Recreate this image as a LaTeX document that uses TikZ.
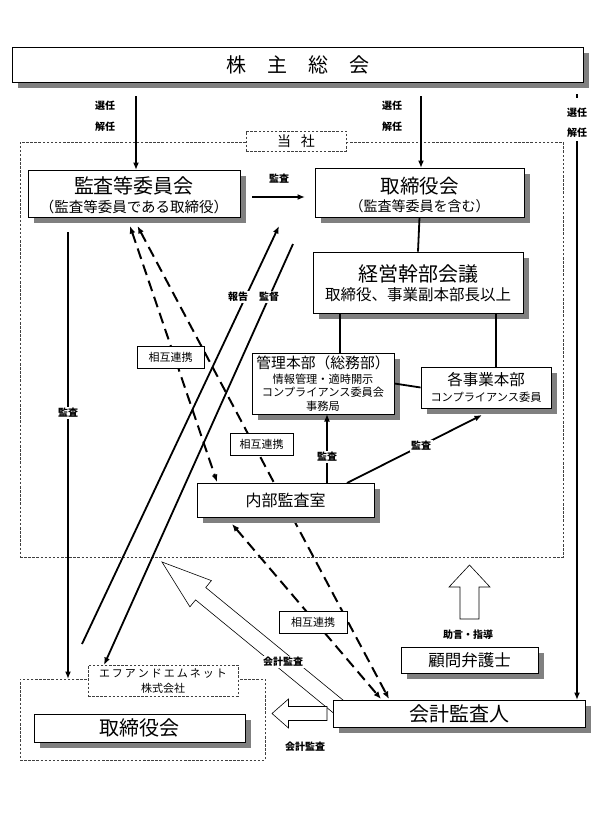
\documentclass[tikz,border=0pt]{standalone}
\usepackage{fontspec}
\setmainfont{Noto Sans CJK JP}
\usetikzlibrary{arrows.meta,shadows}
\newcommand{\jfs}[1]{\fontsize{#1}{#1}\selectfont}
\tikzset{
  shad/.style={general shadow={fill=black!50, shadow xshift=6pt, shadow yshift=-6pt}},
  bx/.style={draw=black, line width=0.8pt, fill=white, inner sep=0pt, shad},
  txt/.style={inner sep=0pt, align=center},
  cont/.style={draw=black!75, line width=0.6pt, dash pattern=on 2.5pt off 1.6pt, inner sep=0pt},
  contlbl/.style={cont, fill=white, align=center},
  sogo/.style={draw=black, line width=0.7pt, fill=white, inner sep=0pt, minimum height=22pt, font=\jfs{11}},
  lbl/.style={fill=white, inner sep=1.5pt, font=\jfs{10}\bfseries},
  arr/.style={line width=1.8pt, -{Latex[length=7.5pt,width=6pt]}},
  ln/.style={line width=1.8pt},
  dsh/.style={line width=2pt, dash pattern=on 11pt off 6pt, {Latex[length=7.5pt,width=6pt]}-{Latex[length=7.5pt,width=6pt]}},
  hollow/.style={draw=black, line width=0.6pt, fill=white, line join=miter},
}
\begin{document}
\begin{tikzpicture}[x=1pt,y=-1pt]
\useasboundingbox (0,0) rectangle (611,815);
\fill[white] (0,0) rectangle (611,815);

% containers
\node[cont, minimum width=543pt, minimum height=415pt] (tosha) at (291.5,349.5) {};
\node[cont, minimum width=245pt, minimum height=81pt] (fmnet) at (142.5,719.5) {};

% coordinates
\coordinate (s1a) at (136,96);   \coordinate (s1b) at (136,170);
\coordinate (s2a) at (421,96);   \coordinate (s2b) at (421,168);
\coordinate (s3a) at (577,94);   \coordinate (s3b) at (577,98);
\coordinate (s3c) at (577,141);  \coordinate (s3d) at (577,700);
\coordinate (kaL) at (68,232);   \coordinate (kaLb) at (68,679);
\coordinate (hoA) at (82,644);   \coordinate (hoB) at (279,226);
\coordinate (kaA) at (293,244);  \coordinate (kaB) at (104,665);
\coordinate (d1a) at (130,226);  \coordinate (d1b) at (217,482);
\coordinate (d2a) at (137.5,226);\coordinate (d2b) at (389,699);
\coordinate (d3a) at (232,524);  \coordinate (d3b) at (381,699);

% lines under boxes
\draw[dsh] (d2a) -- (d2b);
\draw[dsh] (d1a) -- (d1b);
\draw[dsh] (d3a) -- (d3b);
\draw[arr] (hoA) -- (hoB);
\draw[arr] (kaA) -- (kaB);
\draw[arr] (kaL) -- (kaLb);
\draw[arr] (s1a) -- (s1b);
\draw[arr] (s2a) -- (s2b);
\draw[ln] (s3a) -- (s3b);
\draw[arr] (s3c) -- (s3d);

% hollow arrows
\draw[hollow] (162,562) -- (211.4,580.6) -- (205.7,587.5) -- (345.1,701.8) -- (334.9,714.2) -- (195.6,599.9) -- (189.9,606.8) -- cycle;
\draw[hollow] (272,713.5) -- (288.5,699) -- (288.5,706.5) -- (327,706.5) -- (327,720.5) -- (288.5,720.5) -- (288.5,728) -- cycle;
\draw[hollow] (469.5,565) -- (490,587) -- (479,587) -- (479,619) -- (460,619) -- (460,587) -- (449,587) -- cycle;

% boxes
\node[bx, minimum width=571pt, minimum height=35pt] (kabu) at (297.5,64.5) {};
\node[txt, font=\jfs{20}] (kabuT) at (kabu) {株\hspace{21pt}主\hspace{21pt}総\hspace{21pt}会};

\node[bx, minimum width=212pt, minimum height=47pt] (kansa) at (134,193.5) {};
\node[txt, font=\jfs{20}] (kansaT1) at (134,186) {監査等委員会};
\node[txt, font=\jfs{14.5}] (kansaT2) at (134,206.5) {（監査等委員である取締役）};

\node[bx, minimum width=209pt, minimum height=49pt] (tori) at (419.5,192.5) {};
\node[txt, font=\jfs{19.5}] (toriT1) at (419.5,186.5) {取締役会};
\node[txt, font=\jfs{14}] (toriT2) at (419.5,206.5) {（監査等委員を含む）};

\node[bx, minimum width=210pt, minimum height=61pt] (keiei) at (418,282.5) {};
\node[txt, font=\jfs{20}] (keieiT1) at (418,273.5) {経営幹部会議};
\node[txt, font=\jfs{15.5}] (keieiT2) at (418,295) {取締役、事業副本部長以上};

\node[bx, minimum width=142pt, minimum height=61pt] (kanri) at (323,383.5) {};
\node[txt, font=\jfs{14.8}] (kanriT1) at (323,362.5) {管理本部（総務部）};
\node[txt, font=\jfs{11.2}] (kanriT2) at (323,379) {情報管理・適時開示};
\node[txt, font=\jfs{11.2}] (kanriT3) at (323,392.5) {コンプライアンス委員会};
\node[txt, font=\jfs{11.2}] (kanriT4) at (323,406) {事務局};

\node[bx, minimum width=130pt, minimum height=41pt] (kakuji) at (486,387.5) {};
\node[txt, font=\jfs{15.5}] (kakujiT1) at (486,380) {各事業本部};
\node[txt, font=\jfs{11.2}] (kakujiT2) at (486,397.5) {コンプライアンス委員};

\node[bx, minimum width=177pt, minimum height=34pt] (naibu) at (285.5,500) {};
\node[txt, font=\jfs{16}] (naibuT) at (naibu) {内部監査室};

\node[bx, minimum width=137pt, minimum height=26pt] (komon) at (469.5,660) {};
\node[txt, font=\jfs{16.5}] (komonT) at (komon) {顧問弁護士};

\node[bx, minimum width=252pt, minimum height=27pt] (kaikei) at (459,713.5) {};
\node[txt, font=\jfs{20}] (kaikeiT) at (kaikei) {会計監査人};

\node[bx, minimum width=211pt, minimum height=28pt] (tori2) at (139.5,728) {};
\node[txt, font=\jfs{20}] (tori2T) at (tori2) {取締役会};

% container labels
\node[contlbl, minimum width=100pt, minimum height=20pt, font=\jfs{14}] (toshaL) at (296,141) {当\hspace{10pt}社};
\node[contlbl, minimum width=150pt, minimum height=31pt] (fmL) at (163,680.5) {};
\node[txt, font=\jfs{11}] (fmL1) at (163,673.5) {エ\hspace{2pt}フ\hspace{2pt}ア\hspace{2pt}ン\hspace{2pt}ド\hspace{2pt}エ\hspace{2pt}ム\hspace{2pt}ネ\hspace{2pt}ッ\hspace{2pt}ト};
\node[txt, font=\jfs{11}] (fmL2) at (163,688) {株式会社};

% solid connectors between boxes
\coordinate (auA) at (252,197); \coordinate (auB) at (305,197);
\draw[arr] (auA) -- (auB);
\draw[ln] (tori.south) -- (keiei.north);
\coordinate (k1a) at (340,313); \coordinate (k1b) at (340,353);
\coordinate (k2a) at (496,313); \coordinate (k2b) at (496,367);
\draw[ln] (k1a) -- (k1b);
\draw[ln] (k2a) -- (k2b);
\draw[ln] (kanri.east) -- (kakuji.west);
\coordinate (n1a) at (327,483); \coordinate (n1b) at (327,414);
\coordinate (n2a) at (347,483); \coordinate (n2b) at (482,415);
\draw[arr] (n1a) -- (n1b);
\draw[arr] (n2a) -- (n2b);

% mutual cooperation labels
\node[sogo, minimum width=67pt] (sogo1) at (170.5,357.5) {相互連携};
\node[sogo, minimum width=63pt] (sogo2) at (261.5,444) {相互連携};
\node[sogo, minimum width=68pt] (sogo3) at (313,622) {相互連携};

% small labels
\node[lbl] (l1) at (105,106) {選任};
\node[lbl] (l2) at (105,127) {解任};
\node[lbl] (l3) at (392,106) {選任};
\node[lbl] (l4) at (392,127) {解任};
\node[lbl] (l5) at (577,113) {選任};
\node[lbl] (l6) at (577,133) {解任};
\node[lbl] (l7) at (279,179) {監査};
\node[lbl] (l8) at (68,413) {監査};
\node[lbl] (l9) at (327,457) {監査};
\node[lbl] (l10) at (421,446) {監査};
\node[lbl] (l11) at (238,297) {報告};
\node[lbl] (l12) at (269,297) {監督};
\node[lbl] (l13) at (283,662) {会計監査};
\node[lbl] (l14) at (305,747) {会計監査};
\node[lbl] (l15) at (468,635) {助言・指導};
\end{tikzpicture}
\end{document}
